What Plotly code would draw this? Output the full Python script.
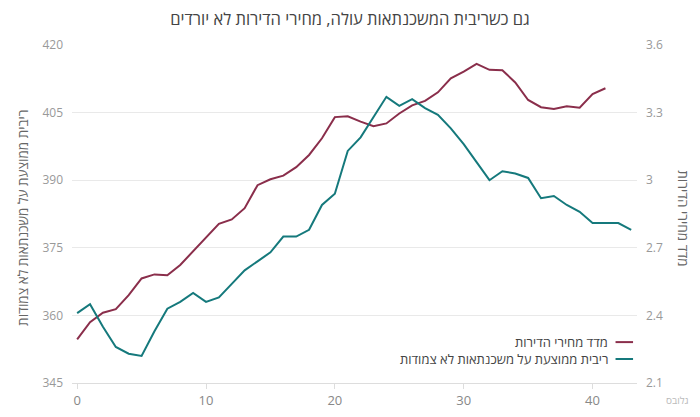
import plotly.graph_objects as go

# ========== Data ==========
months = list(range(44))

# מדד מחירי הדירות (left axis)
price_index = [354.7, 358.5, 360.6, 361.4, 364.5, 368.2, 369.1, 368.9, 371.2, 374.3,
               377.3, 380.3, 381.3, 383.8, 388.9, 390.2, 391.0, 392.9, 395.6, 399.3,
               404.0, 404.2, 403.0, 402.0, 402.6, 404.8, 406.6, 407.6, 409.5, 412.6,
               414.1, 415.8, 414.5, 414.4, 411.7, 407.8, 406.2, 405.8, 406.4, 406.1,
               409.1, 410.4]

# ריבית ממוצעת על משכנתאות לא צמודות (right axis)
mortgage_rate = [2.41, 2.45, 2.35, 2.26, 2.23, 2.22, 2.33, 2.43, 2.46, 2.50,
                 2.46, 2.48, 2.54, 2.60, 2.64, 2.68, 2.75, 2.75, 2.78, 2.89,
                 2.94, 3.13, 3.19, 3.28, 3.37, 3.33, 3.36, 3.32, 3.29, 3.23,
                 3.16, 3.08, 3.00, 3.04, 3.03, 3.01, 2.92, 2.93, 2.89, 2.86,
                 2.81, 2.81, 2.81, 2.78]

price_name = "מדד מחירי הדירות"
rate_name = "ריבית ממוצעת על משכנתאות לא צמודות"
title = "גם כשריבית המשכנתאות עולה, מחירי הדירות לא יורדים"

RED = "#8a2e4b"
TEAL = "#15797c"
FONT = "Open Sans, Noto Sans, sans-serif"

# ========== Figure ==========
# page body keeps its 8px margin, so the figure is 16px smaller than the window
fig = go.Figure()
fig.add_trace(go.Scatter(x=months[:len(price_index)], y=price_index, mode="lines",
                         line=dict(color=RED, width=2), name=price_name))
fig.add_trace(go.Scatter(x=months, y=mortgage_rate, mode="lines",
                         line=dict(color=TEAL, width=2), name=rate_name, yaxis="y2"))

fig.update_layout(
    width=684, height=401,
    margin=dict(l=64, r=55, t=37, b=26),
    paper_bgcolor="white", plot_bgcolor="white",
    font=dict(family=FONT, color="#999", size=12),
    showlegend=False,
    title=dict(text=title, x=0.5, xanchor="center", y=0.972, yanchor="middle",
               font=dict(size=16.5, color="#444", family=FONT)),
    xaxis=dict(range=[-0.4, 43.45], dtick=10, showgrid=False, zeroline=False,
               showline=True, linecolor="#ddd", linewidth=1, automargin=False,
               ticks="outside", ticklen=5, tickcolor="#ddd",
               tickfont=dict(size=13, color="#888")),
    yaxis=dict(range=[345, 420], dtick=15, tick0=345, gridcolor="#e9e9e9",
               zeroline=False, showline=False, ticks="", ticklabelstandoff=8,
               automargin=False, tickfont=dict(size=12, color="#999")),
    yaxis2=dict(range=[2.1, 3.6], dtick=0.3, tick0=2.1, overlaying="y", side="right",
                showgrid=False, zeroline=False, showline=False, ticks="", ticklabelstandoff=8,
                automargin=False, tickfont=dict(size=12, color="#999")),
)

# axis titles (placed as annotations to match rotation)
fig.add_annotation(text=rate_name, textangle=-90, xref="paper", yref="paper",
                   x=-0.087, y=0.488, xanchor="center", yanchor="middle", showarrow=False,
                   font=dict(size=13.5, color="#666"))
fig.add_annotation(text=price_name, textangle=90, xref="paper", yref="paper",
                   x=1.081, y=0.488, xanchor="center", yanchor="middle", showarrow=False,
                   font=dict(size=13.5, color="#666"))

# legend, right-to-left with symbol on the right
legend_items = [(price_name, RED, 0.121), (rate_name, TEAL, 0.071)]
for name, color, ly in legend_items:
    fig.add_shape(type="line", xref="paper", yref="paper", x0=0.962, x1=0.993, y0=ly, y1=ly,
                  line=dict(color=color, width=2))
    fig.add_annotation(text=name, xref="paper", yref="paper", x=0.953, y=ly,
                       xanchor="right", yanchor="middle", showarrow=False,
                       font=dict(size=13, color="#444"))

# source credit, bottom right corner
fig.add_annotation(text="גלובס", xref="paper", yref="paper", x=1.095, y=-0.076,
                   xanchor="right", yanchor="bottom", showarrow=False,
                   font=dict(size=10, color="#bbb"))

fig.write_html("out.html")
